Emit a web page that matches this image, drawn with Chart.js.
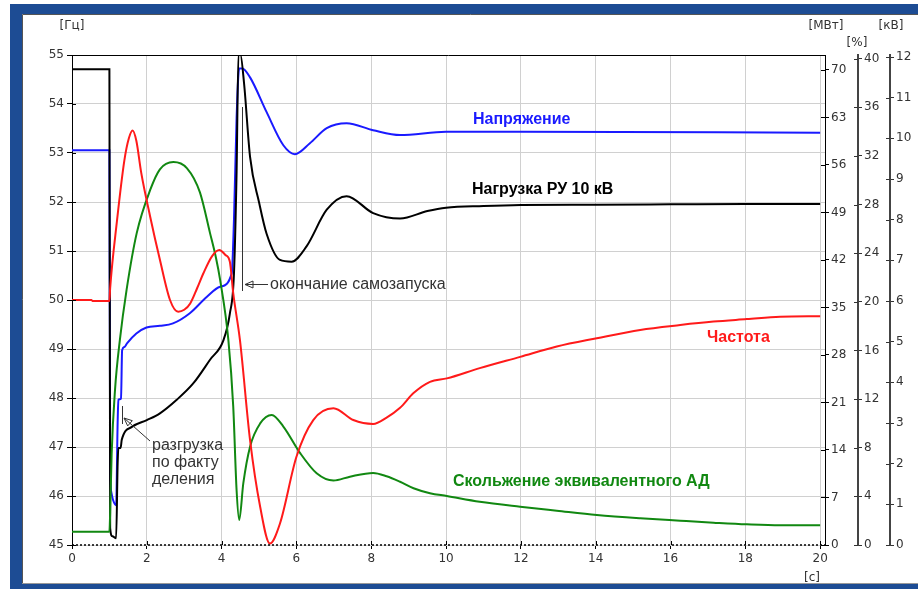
<!DOCTYPE html>
<html><head><meta charset="utf-8">
<script src="https://cdn.jsdelivr.net/npm/chart.js@4/dist/chart.umd.min.js"></script>
<style>html,body{margin:0;padding:0;background:#fff;}#wrap{position:absolute;left:0;top:0;width:918px;height:589px;}</style>
</head><body><div id="wrap"><canvas id="c" width="918" height="589"></canvas></div>
<script>
// ---- Data (time in seconds) ----
const freqT  = [0,0.52,0.55,1.0,1.02,1.2,1.4,1.52,1.62,1.72,1.85,2.09,2.35,2.62,2.84,3.0,3.16,3.35,3.51,3.75,3.94,4.1,4.22,4.31,4.49,4.76,5.03,5.29,5.56,6.0,6.45,6.99,7.52,8.05,8.41,8.77,9.13,9.57,10.02,10.9,11.98,12.96,14.03,15.19,16.26,17.15,18.04,18.93,20];
const freqHz = [50.0,50.0,49.98,49.98,50.24,51.6,52.85,53.3,53.46,53.25,52.6,51.7,50.82,50.0,49.76,49.8,49.93,50.25,50.54,50.9,51.02,50.92,50.78,50.14,49.18,47.14,45.78,45.03,45.44,46.8,47.55,47.79,47.55,47.47,47.6,47.8,48.1,48.33,48.4,48.61,48.84,49.05,49.22,49.39,49.49,49.56,49.61,49.66,49.67];

const loadT  = [0,1.0,1.02,1.08,1.18,1.22,1.24,1.3,1.33,1.6,2.0,2.35,2.8,3.24,3.69,4.05,4.22,4.33,4.4,4.45,4.5,4.6,4.76,5.0,5.2,5.56,5.87,6.27,6.81,7.34,8.05,8.77,9.5,10,11,12,14,16,18,20];
const loadMW = [70.1,70.1,2.5,1.3,1.0,12,14.3,14.3,15.5,17.4,18.4,19.4,21.4,23.8,27.3,30.2,34.1,40,55,72.3,72.3,68,57.2,50.5,45.9,42.0,41.75,44,49.4,51.4,48.9,48.1,49.2,49.7,49.95,50.1,50.15,50.2,50.25,50.25];

const voltT  = [0,1.0,1.02,1.05,1.1,1.18,1.22,1.24,1.31,1.34,1.4,1.47,1.72,1.99,2.35,2.7,3.15,3.6,3.96,4.27,4.33,4.4,4.47,4.55,4.76,5.2,5.65,5.96,6.36,6.81,7.34,8.05,8.77,10,12,20];
const voltKV = [9.71,9.71,2.0,1.3,1.1,0.98,3.0,3.57,3.6,4.79,4.87,4.96,5.2,5.35,5.39,5.45,5.70,6.1,6.35,6.68,8.0,10.5,11.72,11.72,11.5,10.65,9.83,9.61,9.88,10.25,10.37,10.2,10.08,10.16,10.16,10.14];

const slipT   = [0,1.0,1.02,1.06,1.15,1.28,1.46,1.73,2.09,2.35,2.71,3.07,3.42,3.69,3.85,3.96,4.18,4.31,4.40,4.47,4.58,4.76,5.03,5.34,5.65,6.1,6.54,6.99,7.43,8.05,8.41,8.77,9.13,9.57,10.02,10.9,11.98,12.96,14.03,15.19,16.26,17.15,18.04,18.93,20];
const slipPct = [1.1,1.1,2.6,7.5,12.76,16.87,21.0,25.65,29.2,30.9,31.5,31.0,29.0,25.65,23.6,21.8,16.87,11.4,4.5,2.06,5.08,8.09,10.0,10.7,9.74,7.55,5.9,5.3,5.62,5.92,5.65,5.2,4.67,4.26,4.03,3.56,3.15,2.82,2.47,2.2,2.0,1.84,1.70,1.62,1.62];

const seriesNames = ['Частота','Нагрузка РУ 10 кВ','Напряжение','Скольжение эквивалентного АД'];
const unitLabels = ['[Гц]','[МВт]','[%]','[кВ]','[с]'];

function pts(t, v){ return t.map((x,i)=>({x:x, y:v[i]})); }

const TICKFONT = {family:'DejaVu Sans', size:12};
const TICKCOL = '#333';

const framePlugin = {
  id:'frame',
  beforeDraw(chart){
    const ctx = chart.ctx;
    ctx.save();
    ctx.fillStyle = '#ffffff';
    ctx.fillRect(0,0,918,589);
    ctx.fillStyle = '#1d4c94';
    ctx.fillRect(10,4,908,585);
    ctx.fillStyle = '#ffffff';
    ctx.fillRect(22,14,896,570);
    ctx.strokeStyle = '#555';
    ctx.lineWidth = 1;
    ctx.beginPath();
    ctx.moveTo(22.5,584); ctx.lineTo(22.5,14.5); ctx.lineTo(918,14.5);
    ctx.stroke();
    ctx.strokeStyle = '#999';
    ctx.beginPath();
    ctx.moveTo(22,583.5); ctx.lineTo(918,583.5);
    ctx.stroke();
    ctx.restore();
  }
};

function arrowHead(ctx, x, y, ang){
  const L = 8, W = 3.5;
  ctx.beginPath();
  ctx.moveTo(x,y);
  ctx.lineTo(x + L*Math.cos(ang) - W*Math.sin(ang), y + L*Math.sin(ang) + W*Math.cos(ang));
  ctx.lineTo(x + L*Math.cos(ang) + W*Math.sin(ang), y + L*Math.sin(ang) - W*Math.cos(ang));
  ctx.closePath();
  ctx.stroke();
}

const overlayPlugin = {
  id:'overlay',
  afterDraw(chart){
    const ctx = chart.ctx;
    const a = chart.chartArea;
    const s = chart.scales;
    ctx.save();
    ctx.strokeStyle = '#000'; ctx.lineWidth = 1;
    ctx.beginPath(); ctx.moveTo(a.left, a.top+0.5); ctx.lineTo(a.right, a.top+0.5); ctx.stroke();
    ctx.setLineDash([2,2]); ctx.lineWidth = 1.5;
    ctx.beginPath(); ctx.moveTo(a.left, a.bottom); ctx.lineTo(a.right, a.bottom); ctx.stroke();
    ctx.setLineDash([]);
    ctx.lineWidth = 1;
    ctx.strokeStyle = '#000';
    s.y.ticks.forEach(t=>{ const p = Math.round(s.y.getPixelForValue(t.value))+0.5; ctx.beginPath(); ctx.moveTo(s.y.right, p); ctx.lineTo(s.y.right+4, p); ctx.stroke(); });
    ['yMW','yPct','yKV'].forEach(id=>{
      const sc = s[id];
      ctx.strokeStyle = id==='yMW' ? '#000' : '#333';
      sc.ticks.forEach(t=>{ const p = Math.round(sc.getPixelForValue(t.value))+0.5; ctx.beginPath(); ctx.moveTo(sc.left-4, p); ctx.lineTo(sc.left, p); ctx.stroke(); });
    });
    ctx.strokeStyle = '#000';
    s.x.ticks.forEach(t=>{ const p = Math.round(s.x.getPixelForValue(t.value))+0.5; ctx.beginPath(); ctx.moveTo(p, a.bottom-4); ctx.lineTo(p, a.bottom); ctx.stroke(); });

    ctx.fillStyle = '#333';
    ctx.font = '12px "DejaVu Sans"';
    ctx.textAlign = 'center'; ctx.textBaseline = 'middle';
    ctx.fillText(unitLabels[0], 72, 26);
    ctx.fillText(unitLabels[1], 826, 26);
    ctx.fillText(unitLabels[2], 857, 43);
    ctx.fillText(unitLabels[3], 891, 26);
    ctx.fillText(unitLabels[4], 812, 578);

    ctx.textAlign = 'left';
    ctx.font = 'bold 16px "Liberation Sans"';
    ctx.fillStyle = '#1a1aff'; ctx.fillText(seriesNames[2], 473, 120);
    ctx.fillStyle = '#000000'; ctx.fillText(seriesNames[1], 472, 190);
    ctx.fillStyle = '#ff1a1a'; ctx.fillText(seriesNames[0], 707, 338);
    ctx.fillStyle = '#118811'; ctx.fillText(seriesNames[3], 453, 482);

    ctx.strokeStyle = '#333'; ctx.fillStyle = '#333'; ctx.lineWidth = 1;
    ctx.beginPath(); ctx.moveTo(242.5, 107); ctx.lineTo(242.5, 291); ctx.stroke();
    ctx.beginPath(); ctx.moveTo(245, 284.5); ctx.lineTo(268, 284.5); ctx.stroke();
    arrowHead(ctx, 245, 284.5, 0);
    ctx.font = '16px "Liberation Sans"';
    ctx.fillText('окончание самозапуска', 270, 285);

    ctx.beginPath(); ctx.moveTo(122.5, 406); ctx.lineTo(122.5, 424); ctx.stroke();
    ctx.beginPath(); ctx.moveTo(124, 418); ctx.lineTo(150, 441); ctx.stroke();
    arrowHead(ctx, 124, 418, Math.atan2(23, 26));
    ctx.fillText('разгрузка', 152, 446);
    ctx.fillText('по факту', 152, 463);
    ctx.fillText('деления', 152, 480);
    ctx.restore();
  }
};

function fixW(w){ return function(scale){ scale.width = w; }; }

new Chart(document.getElementById('c'), {
  type:'scatter',
  data:{ datasets:[
    {label:seriesNames[0], data:pts(freqT,freqHz), yAxisID:'y', borderColor:'#ff1a1a'},
    {label:seriesNames[3], data:pts(slipT,slipPct), yAxisID:'yPct', borderColor:'#118811'},
    {label:seriesNames[1], data:pts(loadT,loadMW), yAxisID:'yMW', borderColor:'#000000'},
    {label:seriesNames[2], data:pts(voltT,voltKV), yAxisID:'yKV', borderColor:'#1a1aff'}
  ].map(d=>Object.assign(d,{showLine:true, pointRadius:0, borderWidth:2, cubicInterpolationMode:'monotone', fill:false})) },
  options:{
    responsive:false, animation:false, devicePixelRatio:1,
    layout:{padding:{left:0,right:0,top:55,bottom:0}},
    plugins:{legend:{display:false}, tooltip:{enabled:false}},
    scales:{
      x:{type:'linear', position:'bottom', min:0, max:20.13,
        ticks:{stepSize:2, includeBounds:false, color:TICKCOL, font:TICKFONT, maxRotation:0, padding:3, autoSkip:false},
        grid:{color:'#d0d0d0', tickLength:4, tickColor:'#000'},
        border:{display:false},
        afterFit(sc){ sc.height = 44; }},
      y:{type:'linear', position:'left', min:45, max:55,
        ticks:{stepSize:1, includeBounds:false, color:TICKCOL, font:TICKFONT, padding:3},
        grid:{color:'#d0d0d0', tickLength:5, tickColor:'#000'},
        border:{color:'#000', width:1},
        afterFit: fixW(72)},
      yMW:{type:'linear', position:'right', weight:0, min:0, max:72.2,
        ticks:{stepSize:7, includeBounds:false, color:TICKCOL, font:TICKFONT, padding:2, autoSkip:false},
        grid:{drawOnChartArea:false, tickLength:4, color:'#000'},
        border:{color:'#000', width:1},
        afterFit: fixW(33)},
      yPct:{type:'linear', position:'right', weight:1, min:0, max:40.3,
        ticks:{stepSize:4, includeBounds:false, color:TICKCOL, font:TICKFONT, padding:2, autoSkip:false},
        grid:{drawOnChartArea:false, tickLength:4, color:'#333'},
        border:{color:'#444', width:2},
        afterFit: fixW(32)},
      yKV:{type:'linear', position:'right', weight:2, min:0, max:12.05,
        ticks:{stepSize:1, includeBounds:false, color:TICKCOL, font:TICKFONT, padding:2, autoSkip:false},
        grid:{drawOnChartArea:false, tickLength:4, color:'#333'},
        border:{color:'#444', width:2},
        afterFit: fixW(28)}
    }
  },
  plugins:[framePlugin, overlayPlugin]
});
</script></body></html>
